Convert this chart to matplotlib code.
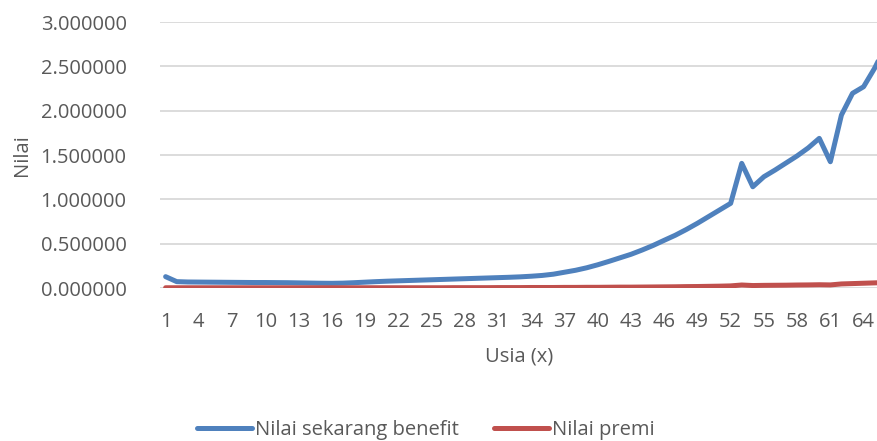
import matplotlib.pyplot as plt
import numpy as np

plt.rcParams['font.family'] = ['Open Sans', 'DejaVu Sans']

# data
usia = list(range(1, 67))
benefit = [0.128, 0.072, 0.068, 0.067, 0.066, 0.065, 0.064, 0.063, 0.062, 0.062,
           0.061, 0.060, 0.058, 0.056, 0.054, 0.053, 0.055, 0.060, 0.066, 0.072,
           0.077, 0.081, 0.085, 0.089, 0.093, 0.097, 0.101, 0.105, 0.109, 0.113,
           0.117, 0.121, 0.126, 0.133, 0.142, 0.156, 0.178, 0.200, 0.228, 0.262,
           0.300, 0.340, 0.380, 0.428, 0.480, 0.538, 0.595, 0.660, 0.730, 0.805,
           0.880, 0.955, 1.406, 1.142, 1.255, 1.330, 1.410, 1.490, 1.580, 1.688,
           1.424, 1.951, 2.196, 2.270, 2.480, 2.730]
premi = [0.003, 0.003, 0.003, 0.003, 0.003, 0.003, 0.003, 0.003, 0.003, 0.003,
         0.003, 0.003, 0.003, 0.003, 0.003, 0.003, 0.003, 0.003, 0.003, 0.003,
         0.003, 0.003, 0.003, 0.003, 0.003, 0.003, 0.004, 0.004, 0.004, 0.004,
         0.005, 0.005, 0.005, 0.006, 0.006, 0.006, 0.007, 0.007, 0.008, 0.008,
         0.009, 0.010, 0.010, 0.011, 0.012, 0.013, 0.014, 0.016, 0.017, 0.019,
         0.021, 0.024, 0.034, 0.028, 0.030, 0.031, 0.032, 0.034, 0.035, 0.037,
         0.035, 0.046, 0.050, 0.054, 0.058, 0.062]
xticks = list(range(1, 66, 3))
yticks = [0, 0.5, 1.0, 1.5, 2.0, 2.5, 3.0]

text_col = '#595959'

fig = plt.figure(figsize=(8.78, 4.41), dpi=100)
ax = fig.add_axes([0.1822, 0.3469, 0.8178, 0.6032])

ax.plot(usia, benefit, color='#4F81BD', linewidth=3.6, solid_capstyle='round',
        solid_joinstyle='round', label='Nilai sekarang benefit', zorder=3)
ax.plot(usia, premi, color='#C0504D', linewidth=3.6, solid_capstyle='round',
        solid_joinstyle='round', label='Nilai premi', zorder=3)

ax.set_xlim(0.49, 65.3)
ax.set_ylim(0, 3.0)
ax.set_xticks(xticks)
ax.set_xticklabels([str(t) for t in xticks])
ax.set_yticks(yticks)
ax.set_yticklabels([f'{v:.6f}' for v in yticks])

ax.grid(axis='y', color='#d9d9d9', linewidth=1.3)
ax.set_axisbelow(True)
for s in ax.spines.values():
    s.set_visible(False)
ax.tick_params(length=0, labelsize=14.5, labelcolor=text_col)
ax.tick_params(axis='x', pad=17)
ax.tick_params(axis='y', pad=24)

ax.set_xlabel('Usia (x)', fontsize=14.5, color=text_col, labelpad=11)
ax.set_ylabel('Nilai', fontsize=14.5, color=text_col, labelpad=6)

fig.legend(loc='center', bbox_to_anchor=(0.485, 0.025), ncol=2, frameon=False,
           fontsize=14.5, labelcolor=text_col, handlelength=2.75,
           handletextpad=0.15, columnspacing=1.7)

fig.savefig('out.png', dpi=100)
